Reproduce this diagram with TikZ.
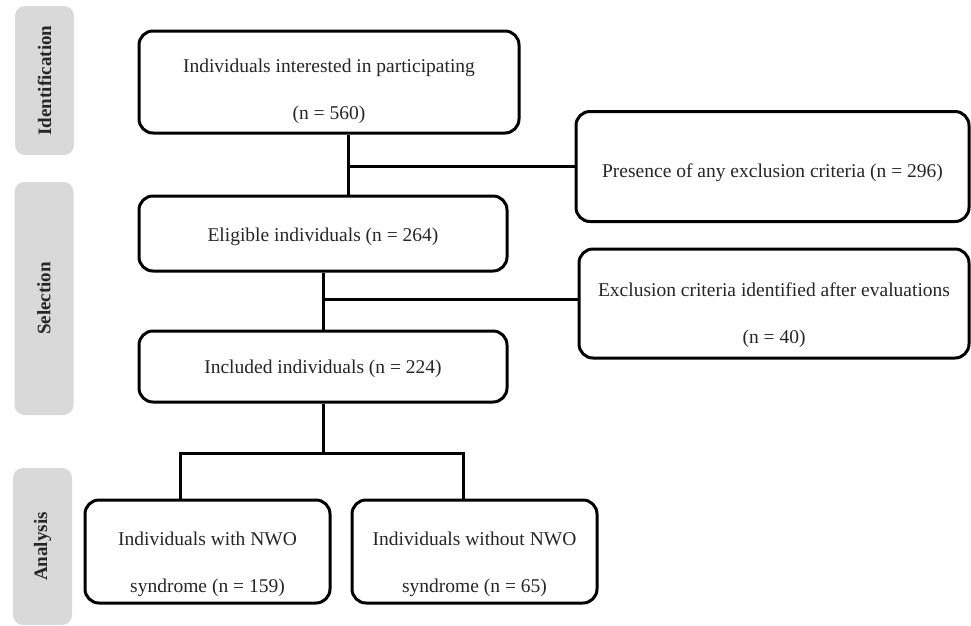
\documentclass[tikz,border=0pt]{standalone}
\usepackage{fontspec}
\setmainfont{Liberation Serif}
\begin{document}
\begin{tikzpicture}[x=1pt,y=-1pt,
  box/.style={draw=black, line width=3pt, rounded corners=14pt, fill=white, inner sep=0pt},
  txt/.style={align=center, inner sep=0pt, font=\fontsize{19.5}{47}\selectfont, text=black!85},
  side/.style={fill=black!15, rounded corners=10pt, inner sep=0pt, minimum width=59pt},
  sidetext/.style={rotate=90, font=\fontsize{19}{22}\selectfont\bfseries, text=black!85},
  conn/.style={line width=3pt, black}]
\useasboundingbox (0,0) rectangle (971,625);
% side panels
\node[side, minimum height=149pt] (sid) at (44.5,80.5) {};
\node[sidetext] (tid) at (sid.center) {Identification};
\node[side, minimum height=233pt] (ssel) at (44,298.5) {};
\node[sidetext] (tsel) at (ssel.center) {Selection};
\node[side, minimum height=157pt] (sana) at (42.5,546.5) {};
\node[sidetext] (tana) at (sana.center) {Analysis};
% boxes
\node[box, minimum width=380pt, minimum height=102pt,
  label={[txt, yshift=-9pt]center:{Individuals interested in participating\\(n = 560)}}] (b1) at (329,82) {};
\node[box, minimum width=393pt, minimum height=110pt,
  label={[txt, yshift=-6pt]center:{Presence of any exclusion criteria (n = 296)}}] (rb1) at (772.5,166.5) {};
\node[box, minimum width=368pt, minimum height=75pt,
  label={[txt, yshift=-3pt]center:{Eligible individuals (n = 264)}}] (b2) at (323,233.5) {};
\node[box, minimum width=390pt, minimum height=109pt,
  label={[txt, yshift=-12pt]center:{Exclusion criteria identified after evaluations\\(n = 40)}}] (rb2) at (774,303.5) {};
\node[box, minimum width=368pt, minimum height=71pt,
  label={[txt, yshift=-2pt]center:{Included individuals (n = 224)}}] (b3) at (323,366.5) {};
\node[box, minimum width=245pt, minimum height=103pt,
  label={[txt, yshift=-13pt]center:{Individuals with NWO\\syndrome (n = 159)}}] (b4) at (207.5,551.5) {};
\node[box, minimum width=245pt, minimum height=103pt,
  label={[txt, yshift=-13pt]center:{Individuals without NWO\\syndrome (n = 65)}}] (b5) at (474.5,551.5) {};
% junctions
\coordinate (j1) at (348,166);
\coordinate (j2) at (323,299);
\coordinate (j3) at (323,453);
\coordinate (jl) at (180,453);
\coordinate (jr) at (463,453);
% connectors
\draw[conn] (b1.south -| j1) -- (b2.north -| j1);
\draw[conn] (j1) -- (j1 -| rb1.west);
\draw[conn] (b2.south) -- (b3.north);
\draw[conn] (j2) -- (j2 -| rb2.west);
\draw[conn] (b3.south) -- (j3);
\draw[conn] (b4.north -| jl) -- (jl) -- (jr) -- (b5.north -| jr);
\end{tikzpicture}
\end{document}
